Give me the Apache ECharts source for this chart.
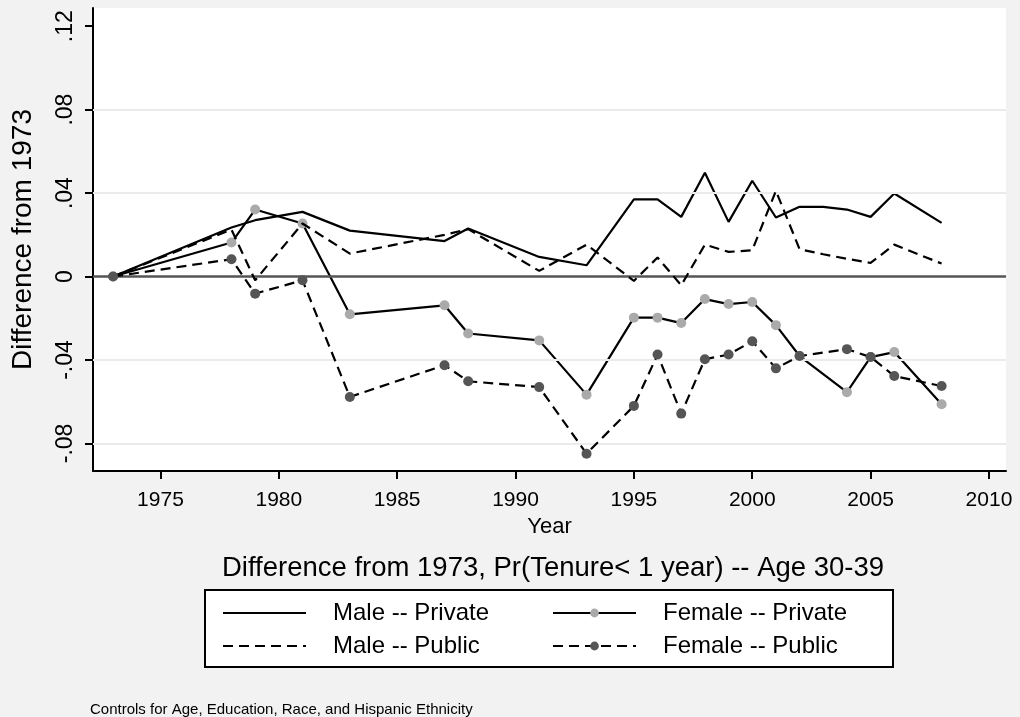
<!DOCTYPE html>
<html><head><meta charset="utf-8">
<script src="https://cdn.jsdelivr.net/npm/echarts@6/dist/echarts.min.js"></script>
<style>html,body{margin:0;padding:0;background:#f2f2f2}#c{width:1020px;height:717px}</style>
</head><body><div id="c"></div>
<script>
const years = [1973, 1978, 1979, 1981, 1983, 1987, 1988, 1991, 1993, 1995, 1996, 1997, 1998, 1999, 2000, 2001, 2002, 2003, 2004, 2005, 2006, 2008];
const malePrivate = [0, 0.0235, 0.027, 0.031, 0.022, 0.017, 0.023, 0.0094, 0.0054, 0.037, 0.037, 0.0286, 0.0497, 0.0262, 0.0459, 0.0283, 0.0334, 0.0334, 0.0321, 0.0286, 0.0398, 0.0257];
const femalePrivate = [0, 0.0163, 0.0321, 0.0254, -0.0181, -0.0138, -0.0273, -0.0306, -0.0566, -0.0197, -0.0197, -0.0223, -0.0108, -0.0132, -0.0122, -0.0233, -0.0381, null, -0.0554, -0.0386, -0.0362, -0.0612];
const malePublic = [0, 0.0225, -0.0018, 0.0254, 0.011, 0.020, 0.0227, 0.0027, 0.0153, -0.0021, 0.0091, -0.0042, 0.0153, 0.0118, 0.0126, 0.0411, 0.0131, 0.0107, 0.0085, 0.0065, 0.0153, 0.0062];
const femalePublic = [0, 0.0083, -0.0082, -0.0018, -0.0577, -0.0425, -0.0502, -0.053, -0.0849, -0.062, -0.0374, -0.0657, -0.0396, -0.0374, -0.031, -0.044, -0.0381, null, -0.0348, -0.0386, -0.0477, -0.0525];
const seriesNames = ['Male -- Private', 'Female -- Private', 'Male -- Public', 'Female -- Public'];
const xTicks = [1975, 1980, 1985, 1990, 1995, 2000, 2005, 2010];
const yTicks = [-0.08, -0.04, 0, 0.04, 0.08, 0.12];
const yTickLabels = ['-.08', '-.04', '0', '.04', '.08', '.12'];
const gridValues = [-0.08, -0.04, 0.04, 0.08];
const titleText = 'Difference from 1973, Pr(Tenure< 1 year) -- Age 30-39';
const noteText = 'Controls for Age, Education, Race, and Hispanic Ethnicity';
const xTitle = 'Year';
const yTitle = 'Difference from 1973';

const FONT = "'Liberation Sans', Arial, Helvetica, sans-serif";
const pair = arr => years.map((y, i) => [y, arr[i]]);
const DASH = [10, 6];

const chart = echarts.init(document.getElementById('c'), null, {renderer: 'canvas'});
function legendAt(name, left, top, hideSymbol) {
  const l = {
    data: [name], left: left, top: top, padding: 0,
    itemWidth: 83, itemHeight: 11,
    selectedMode: false,
    textStyle: {fontFamily: FONT, fontSize: 24, color: '#000', padding: [0, 0, 0, 22]}
  };
  if (hideSymbol) l.itemStyle = {color: 'rgba(0,0,0,0)', borderWidth: 0, opacity: 0};
  return l;
}
const option = {
  animation: false,
  backgroundColor: '#f2f2f2',
  textStyle: {fontFamily: FONT},
  title: [
    {text: titleText, left: 548, top: 549, textAlign: 'center',
     textStyle: {fontFamily: FONT, fontSize: 27.5, fontWeight: 'normal', color: '#000'}},
    {text: noteText, left: 85, top: 697,
     textStyle: {fontFamily: FONT, fontSize: 15, fontWeight: 'normal', color: '#000'}}
  ],
  graphic: [
    {type: 'rect', shape: {x: 205, y: 590, width: 688, height: 77}, z: 0,
     style: {fill: '#fff', stroke: '#000', lineWidth: 2}}
  ],
  legend: [
    legendAt(seriesNames[0], 222, 601, true),
    legendAt(seriesNames[1], 552, 601, false),
    legendAt(seriesNames[2], 222, 634, true),
    legendAt(seriesNames[3], 552, 634, false)
  ],
  grid: {left: 93, top: 8, width: 913, height: 463, show: true, backgroundColor: '#fff', borderWidth: 0, containLabel: false},
  xAxis: {
    type: 'value', min: 1972.15, max: 2010.72,
    name: xTitle, nameLocation: 'middle', nameGap: 42,
    nameTextStyle: {fontFamily: FONT, fontSize: 22, color: '#000'},
    axisLine: {show: true, onZero: false, lineStyle: {color: '#000', width: 2}},
    axisTick: {show: true, length: 8, customValues: xTicks, lineStyle: {color: '#000', width: 2}},
    axisLabel: {customValues: xTicks, margin: 19, fontFamily: FONT, fontSize: 21, color: '#000',
      formatter: v => String(Math.round(v))},
    splitLine: {show: false}
  },
  yAxis: {
    type: 'value', min: -0.0932, max: 0.1287,
    name: yTitle, nameLocation: 'middle', nameGap: 56, nameRotate: 90,
    nameTextStyle: {fontFamily: FONT, fontSize: 28, color: '#000'},
    axisLine: {show: true, onZero: false, lineStyle: {color: '#000', width: 2}},
    axisTick: {show: true, length: 8, customValues: yTicks, lineStyle: {color: '#000', width: 2}},
    axisLabel: {customValues: yTicks, rotate: 90, margin: 16, fontFamily: FONT, fontSize: 23, color: '#000',
      formatter: v => { const i = yTicks.findIndex(t => Math.abs(t - v) < 1e-9); return i >= 0 ? yTickLabels[i] : ''; }},
    splitLine: {show: false}
  },
  series: [
    {name: '__grid', type: 'line', data: [], z: 1, silent: true,
     markLine: {silent: true, symbol: 'none', label: {show: false}, animation: false,
       lineStyle: {color: '#ebebeb', width: 2, type: 'solid'},
       data: gridValues.map(v => ({yAxis: v}))}},
    {name: '__zero', type: 'line', data: [], z: 1, silent: true,
     markLine: {silent: true, symbol: 'none', label: {show: false}, animation: false,
       lineStyle: {color: '#555', width: 2.5, type: 'solid'},
       data: [{yAxis: 0}]}},
    {name: seriesNames[0], type: 'line', data: pair(malePrivate), z: 3, symbol: 'none', connectNulls: true,
     lineStyle: {color: '#000', width: 2.2}, itemStyle: {color: '#000'}},
    {name: seriesNames[1], type: 'line', data: pair(femalePrivate), z: 4, symbol: 'circle', symbolSize: 10, connectNulls: true,
     lineStyle: {color: '#000', width: 2.2}, itemStyle: {color: '#aaaaaa', borderWidth: 0}},
    {name: seriesNames[2], type: 'line', data: pair(malePublic), z: 5, symbol: 'none', connectNulls: true,
     lineStyle: {color: '#000', width: 2.2, type: DASH}, itemStyle: {color: '#000'}},
    {name: seriesNames[3], type: 'line', data: pair(femalePublic), z: 6, symbol: 'circle', symbolSize: 10, connectNulls: true,
     lineStyle: {color: '#000', width: 2.2, type: DASH}, itemStyle: {color: '#555555', borderWidth: 0}}
  ]
};
chart.setOption(option);
</script>
</body></html>
